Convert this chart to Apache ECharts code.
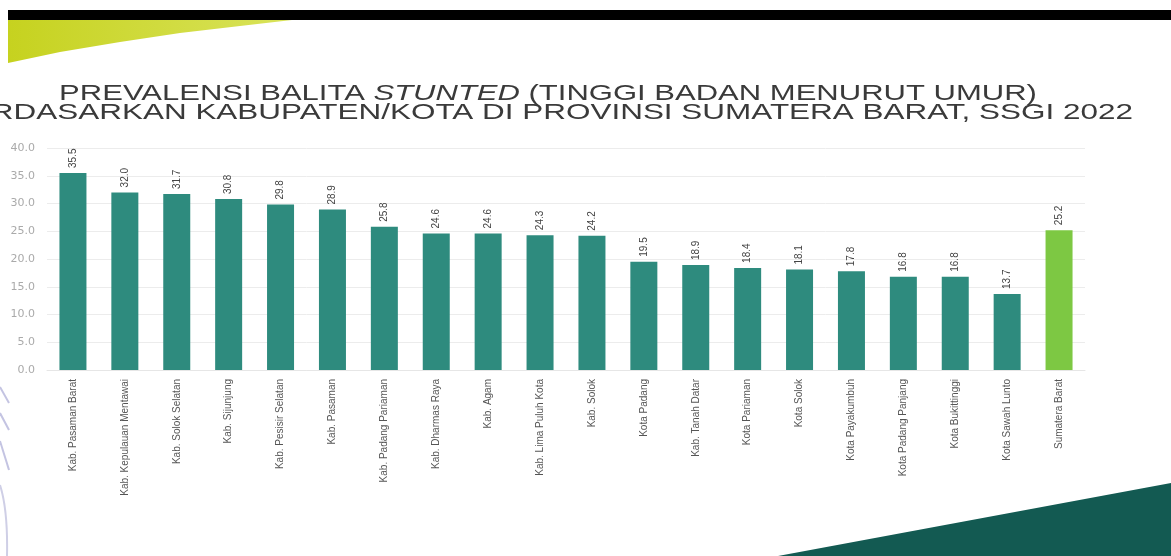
<!DOCTYPE html>
<html>
<head>
<meta charset="utf-8">
<title>Prevalensi Balita Stunted Sumatera Barat</title>
<script src="https://cdn.jsdelivr.net/npm/echarts@6/dist/echarts.min.js"></script>
<style>
html, body {
  margin: 0;
  padding: 0;
  background: #fff;
}
#main {
  width: 1171px;
  height: 556px;
}
</style>
</head>
<body>
<div id="main"></div>
<script>
// kabupaten/kota, urut dari prevalensi tertinggi
var wilayah = [
  'Kab. Pasaman Barat', 'Kab. Kepulauan Mentawai', 'Kab. Solok Selatan', 'Kab. Sijunjung',
  'Kab. Pesisir Selatan', 'Kab. Pasaman', 'Kab. Padang Pariaman', 'Kab. Dharmas Raya',
  'Kab. Agam', 'Kab. Lima Puluh Kota', 'Kab. Solok', 'Kota Padang', 'Kab. Tanah Datar',
  'Kota Pariaman', 'Kota Solok', 'Kota Payakumbuh', 'Kota Padang Panjang',
  'Kota Bukittinggi', 'Kota Sawah Lunto', 'Sumatera Barat'
]
// prevalensi stunted (%)
var prevalensi = [35.5, 32.0, 31.7, 30.8, 29.8, 28.9, 25.8, 24.6, 24.6, 24.3, 24.2,
  19.5, 18.9, 18.4, 18.1, 17.8, 16.8, 16.8, 13.7, 25.2]
var provinsi = 'Sumatera Barat' // bar provinsi diberi warna lain

var judul1 = '{a|PREVALENSI BALITA }{i|STUNTED}{a| (TINGGI BADAN MENURUT UMUR)}'
var judul2 = 'BERDASARKAN KABUPATEN/KOTA DI PROVINSI SUMATERA BARAT, SSGI 2022'

var chart = echarts.init(document.getElementById('main'))

var judulStyle = {
  fontFamily: 'Liberation Sans',
  fontSize: 22,
  fill: '#3a3a3a'
}
var garisUngu = { stroke: '#c4c4e2', lineWidth: 2 }

var option = {
  backgroundColor: '#fff',
  animation: false,
  grid: {
    left: 47,
    right: 86,
    top: 148,
    bottom: 186
  },
  xAxis: {
    type: 'category',
    data: wilayah,
    axisTick: { show: false },
    axisLine: { lineStyle: { color: '#e6e6e6' } },
    axisLabel: {
      interval: 0,
      rotate: 90,
      margin: 9,
      fontFamily: 'Liberation Sans',
      fontSize: 10,
      color: '#555'
    }
  },
  yAxis: {
    type: 'value',
    min: 0,
    max: 40,
    interval: 5,
    axisLine: { show: false },
    axisTick: { show: false },
    splitLine: { lineStyle: { color: '#ececec' } },
    axisLabel: {
      margin: 12,
      fontFamily: 'DejaVu Sans',
      fontSize: 11,
      color: '#aaa',
      formatter: function (v) { return v.toFixed(1) }
    }
  },
  series: [{
    type: 'bar',
    barWidth: 27,
    data: prevalensi.map(function (v, i) {
      return {
        value: v,
        itemStyle: { color: wilayah[i] === provinsi ? '#7dc843' : '#2e8b7e' }
      }
    }),
    label: {
      show: true,
      position: 'top',
      rotate: 90,
      align: 'left',
      verticalAlign: 'middle',
      distance: 5,
      fontFamily: 'Liberation Sans',
      fontSize: 10,
      color: '#444',
      formatter: function (p) { return p.value.toFixed(1) }
    }
  }],
  graphic: [
    { // pita hitam atas
      type: 'rect',
      shape: { x: 8, y: 10, width: 1163, height: 10 },
      style: { fill: '#000' },
      silent: true
    },
    { // lengkung kuning-hijau
      type: 'polygon',
      shape: { points: [[8, 20], [292, 20], [240, 26], [180, 33], [120, 42], [60, 52], [8, 63]] },
      style: {
        fill: {
          type: 'linear', x: 0, y: 0, x2: 1, y2: 0,
          colorStops: [{ offset: 0, color: '#c6d21f' }, { offset: 1, color: '#d9e35a' }]
        }
      },
      silent: true
    },
    { // segitiga hijau tua kanan bawah
      type: 'polygon',
      shape: { points: [[778, 556], [1171, 483], [1171, 556]] },
      style: { fill: '#135a52' },
      silent: true
    },
    { type: 'line', shape: { x1: 0, y1: 387, x2: 9, y2: 403 }, style: garisUngu, silent: true },
    { type: 'line', shape: { x1: 0, y1: 413, x2: 9, y2: 430 }, style: garisUngu, silent: true },
    { type: 'line', shape: { x1: 0, y1: 441, x2: 9, y2: 470 }, style: garisUngu, silent: true },
    {
      type: 'bezierCurve',
      shape: { x1: 0, y1: 485, cpx1: 8, cpy1: 510, x2: 7, y2: 556 },
      style: { stroke: '#cfcfe6', lineWidth: 2, fill: null },
      silent: true
    },
    { // judul baris 1
      type: 'text',
      x: 548,
      y: 94,
      scaleX: 1.41,
      silent: true,
      style: {
        text: judul1,
        align: 'center',
        verticalAlign: 'middle',
        rich: {
          a: judulStyle,
          i: Object.assign({ fontStyle: 'italic' }, judulStyle)
        }
      }
    },
    { // judul baris 2 (terpotong di kiri seperti slide aslinya)
      type: 'text',
      x: 1133,
      y: 113,
      scaleX: 1.43,
      silent: true,
      style: Object.assign({
        text: judul2,
        align: 'right',
        verticalAlign: 'middle'
      }, judulStyle)
    }
  ]
}

chart.setOption(option)
</script>
</body>
</html>
